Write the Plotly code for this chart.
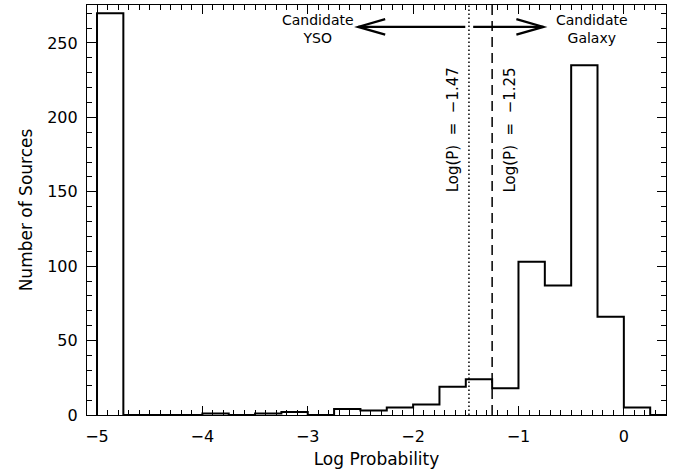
import plotly.graph_objects as go

# Histogram data (bin width 0.25)
bin_left = [-5.0, -4.75, -4.5, -4.25, -4.0, -3.75, -3.5, -3.25, -3.0, -2.75, -2.5,
            -2.25, -2.0, -1.75, -1.5, -1.25, -1.0, -0.75, -0.5, -0.25, 0.0, 0.25]
counts = [270, 0, 0, 0, 1, 0, 1, 2, 0, 4, 3,
          5, 7, 19, 24, 18, 103, 87, 235, 66, 5, 0]
bin_width = 0.25

cut_dotted = -1.47
cut_dashed = -1.25
cut_labels = ["Log(P)\u00a0 =\u00a0 \u22121.47", "Log(P)\u00a0 =\u00a0 \u22121.25"]

FONT = "DejaVu Sans"

# step outline
xs = [bin_left[0]] + bin_left + [bin_left[-1] + bin_width]
ys = [0] + counts + [0]

fig = go.Figure()
fig.add_trace(go.Scatter(x=xs, y=ys, mode="lines", line=dict(shape="hv", color="black", width=2),
                         showlegend=False, hoverinfo="skip"))

# cut lines
fig.add_shape(type="line", x0=cut_dotted, x1=cut_dotted, y0=0, y1=1, xref="x", yref="paper",
              line=dict(color="black", width=1.5, dash="1.5px,2.5px"))
fig.add_shape(type="line", x0=cut_dashed, x1=cut_dashed, y0=0, y1=1, xref="x", yref="paper",
              line=dict(color="black", width=1.5, dash="10px,6px"))

# arrows (horizontal line + open chevrons)
ay = 260.8
dy = 5.2
dxh = 0.257
left_tip, right_tip = -2.522, -0.763
fig.add_shape(type="line", x0=left_tip, x1=-1.505, y0=ay, y1=ay, xref="x", yref="y",
              line=dict(color="black", width=2.2))
fig.add_shape(type="line", x0=-1.43, x1=right_tip, y0=ay, y1=ay, xref="x", yref="y",
              line=dict(color="black", width=2.2))
fig.add_shape(type="path", xref="x", yref="y",
              path=f"M {left_tip+dxh},{ay+dy} L {left_tip},{ay} L {left_tip+dxh},{ay-dy}",
              line=dict(color="black", width=2.2))
fig.add_shape(type="path", xref="x", yref="y",
              path=f"M {right_tip-dxh},{ay+dy} L {right_tip},{ay} L {right_tip-dxh},{ay-dy}",
              line=dict(color="black", width=2.2))

fig.add_annotation(x=-2.902, y=259.5, text="Candidate<br>YSO", showarrow=False,
                   font=dict(family=FONT, size=14, color="black"))
fig.add_annotation(x=-0.30, y=259.5, text="Candidate<br>Galaxy", showarrow=False,
                   font=dict(family=FONT, size=14, color="black"))
fig.add_annotation(x=-1.62, y=191.4, text=cut_labels[0], showarrow=False, textangle=-90,
                   font=dict(family=FONT, size=15, color="black"))
fig.add_annotation(x=-1.077, y=191.4, text=cut_labels[1], showarrow=False, textangle=-90,
                   font=dict(family=FONT, size=15, color="black"))

axis_common = dict(showline=True, linecolor="black", linewidth=1.2, mirror="allticks",
                   ticks="inside", tickcolor="black", tickwidth=1.2, ticklen=9,
                   showgrid=False, zeroline=False,
                   tickfont=dict(family=FONT, size=16, color="black"))

fig.update_xaxes(range=[-5.095, 0.40], dtick=1, tick0=0,
                 minor=dict(dtick=0.1, ticks="inside", ticklen=5, tickcolor="black", tickwidth=1.2, showgrid=False),
                 title=dict(text="Log Probability", font=dict(family=FONT, size=17, color="black"), standoff=7),
                 ticklabelstandoff=7, **axis_common)
fig.update_yaxes(range=[0, 275.5], dtick=50, tick0=0,
                 minor=dict(dtick=10, ticks="inside", ticklen=5, tickcolor="black", tickwidth=1.2, showgrid=False),
                 title=dict(text="Number of Sources", font=dict(family=FONT, size=17, color="black"), standoff=10),
                 ticklabelstandoff=5, **axis_common)

fig.update_layout(width=680, height=474, margin=dict(l=87, r=14, t=5, b=59),
                  plot_bgcolor="white", paper_bgcolor="white")

fig.write_html("out.html")
